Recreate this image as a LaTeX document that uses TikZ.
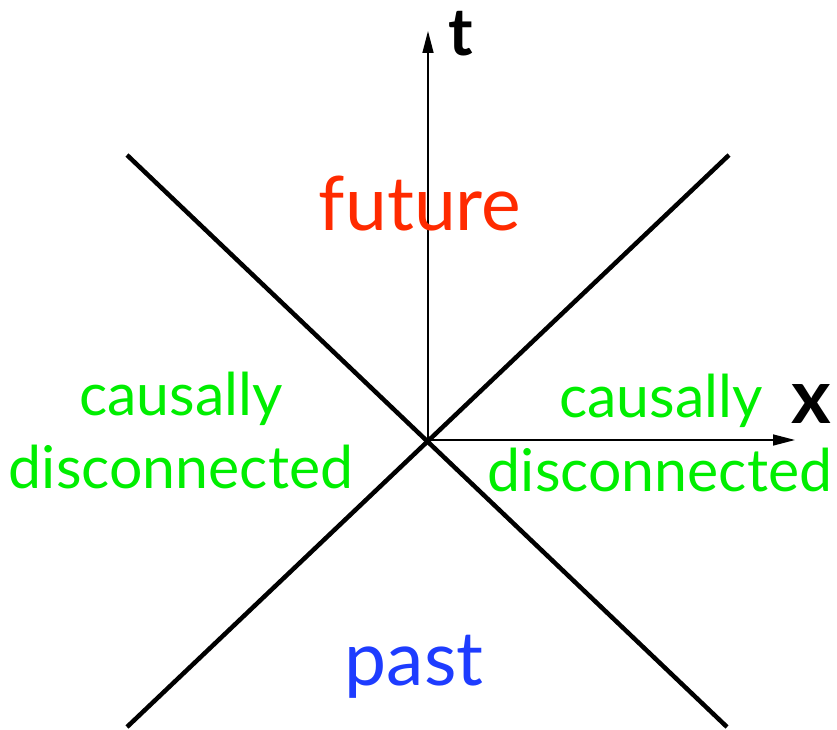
\documentclass[tikz,border=0pt]{standalone}
\usepackage{fontspec}
\setmainfont{Lato}
\usetikzlibrary{arrows.meta}
\definecolor{futred}{HTML}{FF2A00}
\definecolor{pastblue}{HTML}{1E3CFF}
\definecolor{cgreen}{HTML}{00EE00}
\begin{document}
\begin{tikzpicture}[x=1pt,y=-1pt,
  cone/.style={line width=4.5pt},
  axis/.style={line width=1.5pt,-{Triangle[length=22pt,width=11pt]}},
  region/.style={font=\fontsize{59}{66}\selectfont,anchor=base,inner sep=0pt},
  big/.style={font=\fontsize{75}{80}\selectfont,anchor=base,inner sep=0pt},
  axlabel/.style={font=\fontsize{#1}{80}\selectfont\bfseries,anchor=base,inner sep=0pt}]
\useasboundingbox (0,0) rectangle (837,730);
\coordinate (O) at (428,440);
\coordinate (tl) at (127,155);
\coordinate (br) at (727,727);
\coordinate (tr) at (729,155);
\coordinate (bl) at (127,727);
\coordinate (ttip) at (428,31);
\coordinate (xtip) at (795,440);
\draw[cone] (tl) -- (br);
\draw[cone] (tr) -- (bl);
\draw[axis] (O) -- (ttip);
\draw[axis] (O) -- (xtip);
\node[axlabel=66] (tlab) at (461,56) {t};
\node[axlabel=76] (xlab) at (811,423) {x};
\node[big,text=futred] (fut) at (420,230) {future};
\node[big,text=pastblue] (pst) at (414,685) {past};
\node[region,text=cgreen] (lc) at (181,415) {causally};
\node[region,text=cgreen] (ld) at (181,488) {disconnected};
\node[region,text=cgreen] (rc) at (661,417) {causally};
\node[region,text=cgreen] (rd) at (660,491) {disconnected};
\end{tikzpicture}
\end{document}
